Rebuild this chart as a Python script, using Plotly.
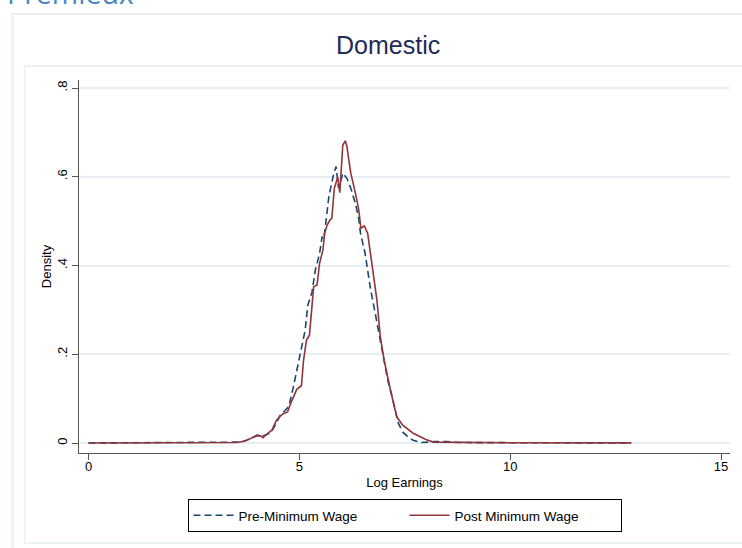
import plotly.graph_objects as go

# ---- data ----
pre_x = [0.0, 1.0, 2.0, 2.6, 3.0, 3.3, 3.6, 3.75, 3.9, 4.0, 4.1, 4.2, 4.31, 4.4, 4.55, 4.65,
         4.75, 4.86, 4.98, 5.05, 5.14, 5.2, 5.24, 5.3, 5.38, 5.48, 5.54, 5.58, 5.62, 5.70,
         5.80, 5.87, 5.93, 5.97, 6.03, 6.13, 6.22, 6.33, 6.41, 6.45, 6.56, 6.68, 6.80, 6.92,
         7.0, 7.1, 7.2, 7.35, 7.45, 7.55, 7.7, 7.9, 8.2, 8.5, 8.8, 9.5, 11.0, 12.87]
pre_y = [0.0, 0.0005, 0.0005, 0.001, 0.002, 0.001, 0.002, 0.006, 0.014, 0.018, 0.015, 0.018,
         0.022, 0.035, 0.063, 0.072, 0.082, 0.127, 0.18, 0.215, 0.255, 0.31, 0.322, 0.34,
         0.39, 0.427, 0.465, 0.46, 0.49, 0.555, 0.60, 0.623, 0.575, 0.585, 0.608, 0.596,
         0.574, 0.54, 0.505, 0.473, 0.427, 0.352, 0.292, 0.232, 0.187, 0.14, 0.104, 0.044,
         0.025, 0.016, 0.006, 0.001, 0.003, 0.003, 0.001, 0.0005, 0.0005, 0.0]

post_x = [0.0, 1.0, 2.0, 3.0, 3.5, 3.7, 3.85, 4.0, 4.08, 4.14, 4.25, 4.35, 4.45, 4.53, 4.62,
          4.72, 4.82, 4.94, 5.05, 5.10, 5.17, 5.24, 5.34, 5.42, 5.48, 5.56, 5.6, 5.66, 5.73,
          5.77, 5.83, 5.91, 5.96, 6.03, 6.09, 6.13, 6.17, 6.22, 6.33, 6.41, 6.46, 6.54, 6.62,
          6.72, 6.84, 6.92, 7.01, 7.16, 7.31, 7.45, 7.55, 7.7, 7.87, 8.0, 8.18, 8.5, 9.0,
          10.0, 12.87]
post_y = [0.0, 0.0005, 0.0003, 0.001, 0.001, 0.004, 0.01, 0.0165, 0.016, 0.012, 0.022, 0.029,
          0.05, 0.059, 0.066, 0.07, 0.095, 0.121, 0.129, 0.187, 0.232, 0.243, 0.352, 0.356,
          0.405, 0.435, 0.473, 0.491, 0.503, 0.506, 0.574, 0.599, 0.564, 0.671, 0.681, 0.668,
          0.64, 0.608, 0.563, 0.525, 0.484, 0.489, 0.473, 0.405, 0.322, 0.24, 0.187, 0.12,
          0.059, 0.04, 0.033, 0.022, 0.014, 0.008, 0.002, 0.002, 0.0005, 0.0005, 0.0003]

x_ticks = [0, 5, 10, 15]
x_tick_labels = ["0", "5", "10", "15"]
y_ticks = [0, 0.2, 0.4, 0.6, 0.8]
y_tick_labels = ["0", ".2", ".4", ".6", ".8"]

series_names = ["Pre-Minimum Wage", "Post Minimum Wage"]
chart_title = "Domestic"
header_text = "Premieux"

# ---- layout geometry (pixels) ----
W, H = 742, 548
L, R, T, B = 78.5, 730, 80, 453
PW, PH = R - L, B - T


def px_x(p):
    return (p - L) / PW


def px_y(p):
    return (B - p) / PH


NAVY = "#1a476f"
MAROON = "#90353b"
FRAME = "#e8eff2"
FONT = "Liberation Sans, Arial, sans-serif"

fig = go.Figure()
fig.add_trace(go.Scatter(x=pre_x, y=pre_y, mode="lines", name=series_names[0],
                         line=dict(color=NAVY, width=1.6, dash="7px,4px")))
fig.add_trace(go.Scatter(x=post_x, y=post_y, mode="lines", name=series_names[1],
                         line=dict(color=MAROON, width=1.6)))

x_lo = (L - 88) / 42.2
x_hi = (R - 88) / 42.2
y_lo = (443 - B) / 443.75
y_hi = (443 - T) / 443.75

fig.update_xaxes(range=[x_lo, x_hi], tickvals=x_ticks, ticktext=x_tick_labels,
                 showgrid=False, zeroline=False, showline=True, linecolor="#555555",
                 linewidth=1.3, ticks="outside", ticklen=6, tickcolor="#555555",
                 ticklabelstandoff=-5,
                 tickfont=dict(family=FONT, size=13, color="#000000"),
                 title=dict(text="Log Earnings", font=dict(family=FONT, size=13, color="#000000"),
                            standoff=5))
fig.update_yaxes(range=[y_lo, y_hi], tickvals=y_ticks, ticktext=y_tick_labels,
                 showgrid=True, gridcolor="#e6eef1", gridwidth=1.5, zeroline=False,
                 showline=True, linecolor="#555555", linewidth=1.3, ticks="outside",
                 ticklen=6, tickcolor="#555555", tickangle=-90,
                 tickfont=dict(family=FONT, size=13, color="#000000"),
                 title=dict(text="Density", font=dict(family=FONT, size=13, color="#000000"),
                            standoff=0))

shapes = [
    dict(type="rect", xref="paper", yref="paper", x0=px_x(12), x1=px_x(760),
         y0=px_y(560), y1=px_y(14), line=dict(color=FRAME, width=2), layer="below"),
    dict(type="rect", xref="paper", yref="paper", x0=px_x(24), x1=px_x(760),
         y0=px_y(543), y1=px_y(66), line=dict(color=FRAME, width=1.5), layer="below"),
]

annotations = [
    dict(text=chart_title, xref="paper", yref="paper", x=px_x(388), y=px_y(61),
         xanchor="center", yanchor="bottom", showarrow=False,
         font=dict(family=FONT, size=25, color="#1e2b56")),
    dict(text=header_text, xref="paper", yref="paper", x=px_x(4), y=px_y(14),
         xanchor="left", yanchor="bottom", showarrow=False,
         font=dict(family="Open Sans, sans-serif", size=28.5, color="#4a87c6")),
]

fig.update_layout(
    width=W, height=H,
    margin=dict(l=L, r=W - R, t=T, b=H - B, pad=0, autoexpand=False),
    paper_bgcolor="white", plot_bgcolor="white",
    shapes=shapes, annotations=annotations,
    showlegend=True,
    legend=dict(orientation="h", x=0.5, xanchor="center", y=px_y(499), yanchor="top",
                bordercolor="#000000", borderwidth=1, bgcolor="white",
                font=dict(family=FONT, size=13.5, color="#000000"),
                entrywidth=161, itemwidth=40),
)

fig.write_html("out.html", config={"displayModeBar": False},
               post_script="document.body.style.margin='0';")
